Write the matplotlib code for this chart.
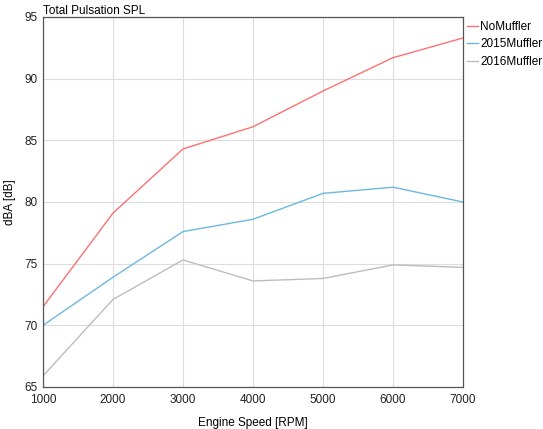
import matplotlib.pyplot as plt

# engine speed and SPL values
rpm = [1000, 2000, 3000, 4000, 5000, 6000, 7000]
no_muffler = [71.5, 79.1, 84.3, 86.1, 89.0, 91.7, 93.3]
muffler_2015 = [70.0, 73.9, 77.6, 78.6, 80.7, 81.2, 80.0]
muffler_2016 = [65.9, 72.1, 75.3, 73.6, 73.8, 74.9, 74.7]

plt.rcParams['font.family'] = ['Liberation Sans', 'DejaVu Sans']
plt.rcParams['font.size'] = 8.5

fig = plt.figure(figsize=(5.43, 4.29), dpi=100)
ax = fig.add_axes([43 / 543, 1 - 387 / 429, 420 / 543, 370 / 429])

ax.plot(rpm, no_muffler, color='#ff7070', lw=1, label='NoMuffler')
ax.plot(rpm, muffler_2015, color='#6cb8e0', lw=1, label='2015Muffler')
ax.plot(rpm, muffler_2016, color='#bdbdbd', lw=1, label='2016Muffler')

ax.set_xlim(1000, 7000)
ax.set_ylim(65, 95)
ax.set_xticks(rpm)
ax.set_yticks([65, 70, 75, 80, 85, 90, 95])
ax.grid(True, color='#dddddd', lw=0.8)
ax.tick_params(length=0, colors='#222222')
ax.tick_params(axis='x', pad=5)
ax.tick_params(axis='y', pad=4)
for s in ax.spines.values():
    s.set_color('#555555')
    s.set_linewidth(0.9)

ax.set_xlabel('Engine Speed [RPM]', labelpad=8)
ax.set_ylabel('dBA [dB]', labelpad=6)
ax.set_title('Total Pulsation SPL', loc='left', pad=1, fontsize=8.5)

ax.legend(loc='upper left', bbox_to_anchor=(1.0, 1.0), frameon=False,
          handlelength=0.9, handletextpad=0.2, borderaxespad=0.05,
          labelspacing=0.45, borderpad=0.3)

fig.savefig('out.png', dpi=100)
